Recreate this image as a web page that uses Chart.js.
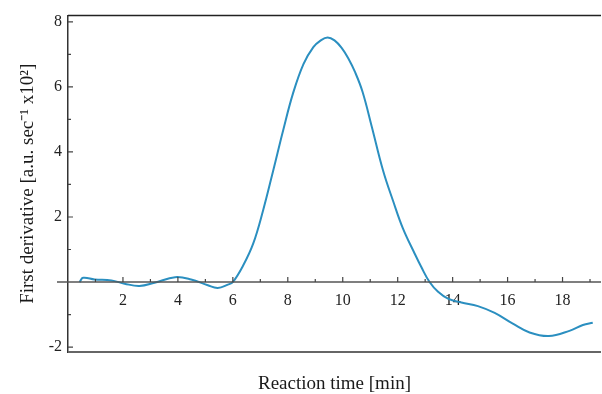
<!DOCTYPE html>
<html>
<head>
<meta charset="utf-8">
<script src="https://cdn.jsdelivr.net/npm/chart.js@4/dist/chart.umd.min.js"></script>
<style>
  html, body { margin: 0; padding: 0; background: #fff; }
  #wrap { width: 602px; height: 394px; }
</style>
</head>
<body>
<div id="wrap"><canvas id="derivative-graph"></canvas></div>
<script>
// reaction time (min) and first derivative (a.u. sec^-1 x10^2)
const timeMin = [0.42, 0.55, 0.97, 1.58, 2.06, 2.6, 3.15, 3.9, 4.48, 5.09, 5.45, 5.82, 6.0,
    6.37, 6.74, 7.1, 7.47, 7.83, 8.19, 8.57, 8.93, 9.2, 9.45, 9.7, 9.96, 10.2, 10.45, 10.72,
    11.05, 11.47, 11.83, 12.19, 12.62, 12.86, 13.16, 13.47, 13.83, 14.32, 14.92,
    15.53, 16.19, 16.8, 17.5, 18.25, 18.74, 19.1];
const firstDerivative = [0.0, 0.13, 0.08, 0.05, -0.05, -0.12, -0.02, 0.15, 0.08, -0.1, -0.18, -0.08, 0.0,
    0.5, 1.18, 2.2, 3.43, 4.66, 5.8, 6.7, 7.22, 7.43, 7.52, 7.43, 7.2, 6.88, 6.45, 5.85,
    4.8, 3.42, 2.5, 1.65, 0.87, 0.46, 0.0, -0.3, -0.51, -0.63, -0.74,
    -0.95, -1.28, -1.55, -1.66, -1.5, -1.32, -1.25];

const xTickLabels = [2, 4, 6, 8, 10, 12, 14, 16, 18];
const yTickLabels = [-2, 2, 4, 6, 8];

const serif = "'Liberation Serif', 'Times New Roman', serif";

// frame, zero line and the small inward tick marks
const frameAndTicks = {
    id: 'frameAndTicks',
    afterDatasetsDraw(chart) {
        const {ctx, chartArea, scales} = chart;
        const x = scales.x, y = scales.y;
        const y0 = y.getPixelForValue(0);
        ctx.save();

        ctx.strokeStyle = '#222';
        ctx.lineWidth = 1.5;
        ctx.beginPath();
        ctx.moveTo(chartArea.left, chartArea.top);
        ctx.lineTo(chartArea.right, chartArea.top);
        ctx.stroke();

        ctx.strokeStyle = '#666';
        ctx.lineWidth = 2;
        ctx.beginPath();
        ctx.moveTo(chartArea.left, chartArea.bottom);
        ctx.lineTo(chartArea.right, chartArea.bottom);
        ctx.stroke();

        ctx.strokeStyle = '#555';
        ctx.lineWidth = 1.5;
        ctx.beginPath();
        ctx.moveTo(chartArea.left - 11, y0);
        ctx.lineTo(chartArea.right, y0);
        ctx.stroke();

        ctx.strokeStyle = '#444';
        ctx.lineWidth = 1.2;
        ctx.beginPath();
        for (let v = Math.ceil(x.min) + 1; v <= x.max; v++) {
            const px = x.getPixelForValue(v);
            const len = xTickLabels.includes(v) ? 5 : 3;
            ctx.moveTo(px, y0);
            ctx.lineTo(px, y0 - len);
        }
        for (let v = Math.ceil(y.min); v <= y.max; v++) {
            if (v === 0) continue;
            const py = y.getPixelForValue(v);
            const len = yTickLabels.includes(v) ? 5 : 3;
            ctx.moveTo(chartArea.left, py);
            ctx.lineTo(chartArea.left + len, py);
        }
        ctx.stroke();
        ctx.restore();
    }
};

const graph = new Chart(document.getElementById('derivative-graph'), {
    type: 'line',
    data: {
        datasets: [{
            label: 'First derivative',
            data: timeMin.map((t, i) => ({x: t, y: firstDerivative[i]})),
            borderColor: '#2b8fc0',
            borderWidth: 2,
            pointRadius: 0,
            fill: false,
            tension: 0.4
        }]
    },
    options: {
        responsive: true,
        maintainAspectRatio: false,
        animation: false,
        layout: {
            padding: {top: 15, right: 1, left: 0, bottom: 0}
        },
        plugins: {
            legend: {display: false},
            tooltip: {enabled: false},
            title: {
                display: true,
                text: 'Reaction time [min]',
                position: 'bottom',
                fullSize: false,
                color: '#1a1a1a',
                font: {family: serif, size: 19, weight: 'normal', lineHeight: 1},
                padding: {top: 23, bottom: 0}
            }
        },
        scales: {
            x: {
                type: 'linear',
                position: {y: 0},
                min: 0,
                max: 19.4,
                grid: {display: false, drawTicks: false},
                border: {display: false},
                ticks: {
                    stepSize: 2,
                    includeBounds: false,
                    maxRotation: 0,
                    padding: 9,
                    color: '#222',
                    font: {family: serif, size: 16},
                    callback: v => xTickLabels.includes(v) ? String(v) : ''
                }
            },
            y: {
                type: 'linear',
                min: -2.15,
                max: 8.19,
                afterFit: scale => { scale.width = 68; },
                grid: {display: false, drawTicks: false},
                border: {display: true, color: '#333', width: 1.5},
                ticks: {
                    stepSize: 2,
                    includeBounds: false,
                    padding: 6,
                    color: '#222',
                    font: {family: serif, size: 16},
                    callback: v => yTickLabels.includes(v) ? String(v) : ''
                },
                title: {
                    display: true,
                    text: 'First derivative [a.u. sec⁻¹ x10²]',
                    color: '#1a1a1a',
                    font: {family: serif, size: 19, lineHeight: 1},
                    padding: {top: 19, bottom: 0}
                }
            }
        }
    },
    plugins: [frameAndTicks]
});
</script>
</body>
</html>
